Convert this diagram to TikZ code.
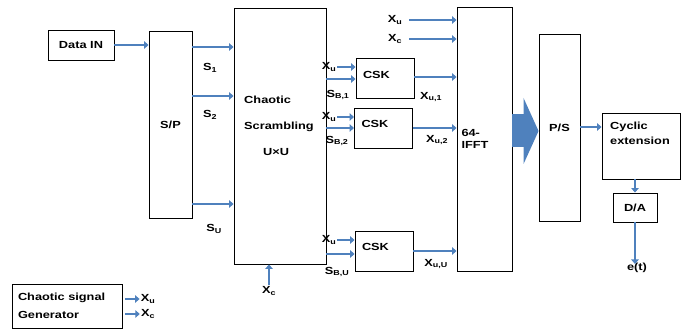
\documentclass[tikz,border=0pt]{standalone}
\usepackage{fontspec}
\setmainfont{Liberation Sans}[FakeStretch=1.24]
\usepackage{tikz}
\usetikzlibrary{arrows.meta, positioning, calc}
\definecolor{sigblue}{RGB}{79, 129, 189}

\begin{document}
\begin{tikzpicture}[
    x=1pt, y=-1pt,
    every node/.style={font=\bfseries\fontsize{10.3}{12}\selectfont},
    blk/.style={
        rectangle, draw=black, line width=0.9pt, inner sep=2pt
    },
    cskbox/.style={
        blk, minimum width=58pt, minimum height=40pt,
        text width=44pt, align=left, text depth=8pt
    },
    lbl/.style={inner sep=1pt},
    sig/.style={draw=sigblue, line width=2.6pt, -{Triangle[length=4.5pt,width=7.5pt]}}
]
    \useasboundingbox (0,0) rectangle (694,331);

    % blocks
    \node [blk, minimum width=66pt, minimum height=30pt] (data) at (81,45) {Data IN};
    \node [blk, minimum width=43pt, minimum height=187pt] (sp) at (170.5,124.5) {S/P};
    \node [blk, minimum width=92pt, minimum height=256pt] (chaos) at (280,136) {};
    \node [align=left] (chaostxt) at (279,126) {Chaotic\\[14pt]Scrambling\\[14pt]\hspace*{19pt}U×U};

    \node [cskbox] (csk1) at (385,78.5) {CSK};
    \node [cskbox] (csk2) at (383.5,128) {CSK};
    \node [cskbox] (csk3) at (384,251) {CSK};

    \node [blk, minimum width=55pt, minimum height=264pt, text width=46pt, align=left] (ifft) at (484.5,139) {64-\\IFFT};
    \node [blk, minimum width=41pt, minimum height=187pt] (ps) at (559.5,127.5) {P/S};
    \node [blk, minimum width=78pt, minimum height=66pt] (cyc) at (641,146) {};
    \node [align=left] (cyctxt) at (640,133) {Cyclic\\[3pt]extension};
    \node [blk, minimum width=44pt, minimum height=29pt] (da) at (635,207.5) {D/A};

    \node [blk, minimum width=110pt, minimum height=44pt, text width=98pt, align=left] (gen) at (67,306) {Chaotic signal\\[6pt]Generator};

    % labels
    \node [lbl] (s1) at (210,68) {S\textsubscript{1}};
    \node [lbl] (s2) at (210,115) {S\textsubscript{2}};
    \node [lbl] (su) at (214,229) {S\textsubscript{U}};

    \node [lbl] (xu1) at (329,67) {X\textsubscript{u}};
    \node [lbl] (xu2) at (329,117) {X\textsubscript{u}};
    \node [lbl] (xu3) at (329,240) {X\textsubscript{u}};
    \node [lbl] (sb1) at (338,95) {S\textsubscript{B,1}};
    \node [lbl] (sb2) at (337,141) {S\textsubscript{B,2}};
    \node [lbl] (sbu) at (337,272) {S\textsubscript{B,U}};
    \node [lbl] (xo1) at (431,97) {X\textsubscript{u,1}};
    \node [lbl] (xo2) at (437,140) {X\textsubscript{u,2}};
    \node [lbl] (xou) at (436,264) {X\textsubscript{u,U}};

    \node [lbl] (xtop) at (395,20) {X\textsubscript{u}};
    \node [lbl] (ctop) at (395,39) {X\textsubscript{c}};
    \node [lbl] (cbot) at (269,291) {X\textsubscript{c}};
    \node [lbl] (et) at (637,268) {e(t)};
    \node [lbl] (xug) at (148,299) {X\textsubscript{u}};
    \node [lbl] (xcg) at (148,314) {X\textsubscript{c}};

    % connectors
    \draw [sig] (data.east) -- (data.east -| sp.west);
    \foreach \yy in {47,96,204} {
        \coordinate (t) at (0,\yy);
        \draw [sig] (sp.east |- t) -- (chaos.west |- t);
    }
    \foreach \i/\ys/\yo in {1/79/77, 2/128/128, 3/254/251} {
        \coordinate (tin) at (0,\ys);
        \coordinate (tout) at (0,\yo);
        \draw [sig] (xu\i.east) -- (csk\i.west |- xu\i);
        \draw [sig] (chaos.east |- tin) -- (csk\i.west |- tin);
        \draw [sig] (csk\i.east |- tout) -- (ifft.west |- tout);
    }
    \draw [sig] ([xshift=6pt]xtop.east) -- (ifft.west |- xtop);
    \draw [sig] ([xshift=6pt]ctop.east) -- (ifft.west |- ctop);
    \draw [sig] (cbot.north) -- (cbot.north |- chaos.south);

    \coordinate (mid) at (0,131);
    \draw [sigblue, line width=33pt, -{Triangle[length=15pt,width=66pt,line width=0pt]}]
        (ifft.east |- mid) -- (ps.west |- mid);

    \coordinate (pc) at (0,127);
    \draw [sig] (ps.east |- pc) -- (cyc.west |- pc);
    \draw [sig] (da.north |- cyc.south) -- (da.north);
    \draw [sig] (da.south) -- ([yshift=-2pt]et.north -| da.south);

    \draw [sig, shorten <=3pt] (gen.east |- xug) -- (xug.west);
    \draw [sig, shorten <=3pt] (gen.east |- xcg) -- (xcg.west);
\end{tikzpicture}
\end{document}
